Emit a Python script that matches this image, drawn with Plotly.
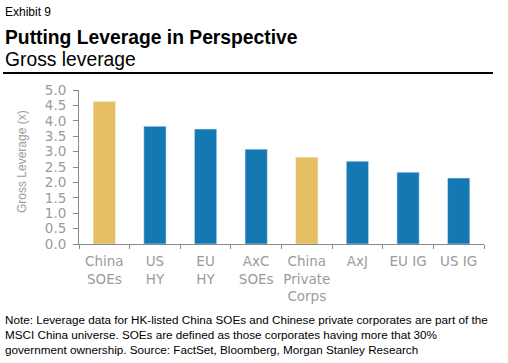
import plotly.graph_objects as go

categories = ["China<br>SOEs", "US<br>HY", "EU<br>HY", "AxC<br>SOEs", "China<br>Private<br>Corps", "AxJ", "EU IG", "US IG"]
values = [4.63, 3.82, 3.73, 3.08, 2.82, 2.69, 2.33, 2.14]
is_china = [True, False, False, False, True, False, False, False]
y_ticks = [0, 0.5, 1.0, 1.5, 2.0, 2.5, 3.0, 3.5, 4.0, 4.5, 5.0]

GOLD = "#E6BE63"
BLUE = "#1479B2"
GRAY = "#9B9B9B"
colors = [GOLD if c else BLUE for c in is_china]

W, H = 508, 363
L, R, T, B = 79, 24, 90, 119
pw, ph = W - L - R, H - T - B

def px(x):
    return (x - L) / pw

def py(y):
    return (H - B - y) / ph

fig = go.Figure(go.Bar(x=categories, y=values, marker_color=colors, width=0.44))

font = "Liberation Sans, Arial, sans-serif"
tfont = "DejaVu Sans, sans-serif"

fig.update_layout(
    width=W, height=H,
    margin=dict(l=L, r=R, t=T, b=B),
    plot_bgcolor="white", paper_bgcolor="white",
    font=dict(family=font),
    showlegend=False,
    xaxis=dict(
        type="category", tickson="boundaries", ticks="outside", ticklen=4,
        tickcolor="#888888", showline=True, linecolor="#888888", linewidth=1,
        tickangle=0, ticklabelstandoff=5,
        tickfont=dict(size=13.5, color=GRAY, family=tfont), showgrid=False,
    ),
    yaxis=dict(
        range=[0, 5], tickvals=y_ticks, tickformat=".1f", ticksuffix="x",
        ticks="outside", ticklen=5, tickcolor="#888888", showline=True,
        linecolor="#888888", linewidth=1, showgrid=False, zeroline=False,
        ticklabelstandoff=4,
        tickfont=dict(size=13.5, color=GRAY, family=tfont),
    ),
    annotations=[
        dict(text="Exhibit 9", xref="paper", yref="paper", x=px(3), y=py(12),
             xanchor="left", yanchor="middle", showarrow=False,
             font=dict(size=12, color="black", family=font)),
        dict(text="<b>Putting Leverage in Perspective</b>", xref="paper", yref="paper",
             x=px(3), y=py(37), xanchor="left", yanchor="middle", showarrow=False,
             font=dict(size=19.3, color="black", family=font)),
        dict(text="Gross leverage", xref="paper", yref="paper", x=px(3), y=py(59),
             xanchor="left", yanchor="middle", showarrow=False,
             font=dict(size=19.3, color="black", family=font)),
        dict(text="Gross Leverage (x)", xref="paper", yref="paper", x=px(22), y=py(161),
             xanchor="center", yanchor="middle", textangle=-90, showarrow=False,
             font=dict(size=12, color=GRAY, family=font)),
        dict(text=("Note: Leverage data for HK-listed China SOEs and Chinese private corporates are part of the<br>"
                   "MSCI China universe. SOEs are defined as those corporates having more that 30%<br>"
                   "government ownership. Source: FactSet, Bloomberg, Morgan Stanley Research"),
             xref="paper", yref="paper", x=px(3), y=py(334), xanchor="left", yanchor="middle",
             align="left", showarrow=False, font=dict(size=11.7, color="black", family=font)),
    ],
    shapes=[
        dict(type="line", xref="paper", yref="paper", x0=px(3), x1=px(493), y0=py(73), y1=py(73),
             line=dict(color="black", width=2)),
    ],
)

fig.write_html("out.html", config={"displayModeBar": False},
               post_script="document.body.style.margin='0';document.body.style.padding='0';")
